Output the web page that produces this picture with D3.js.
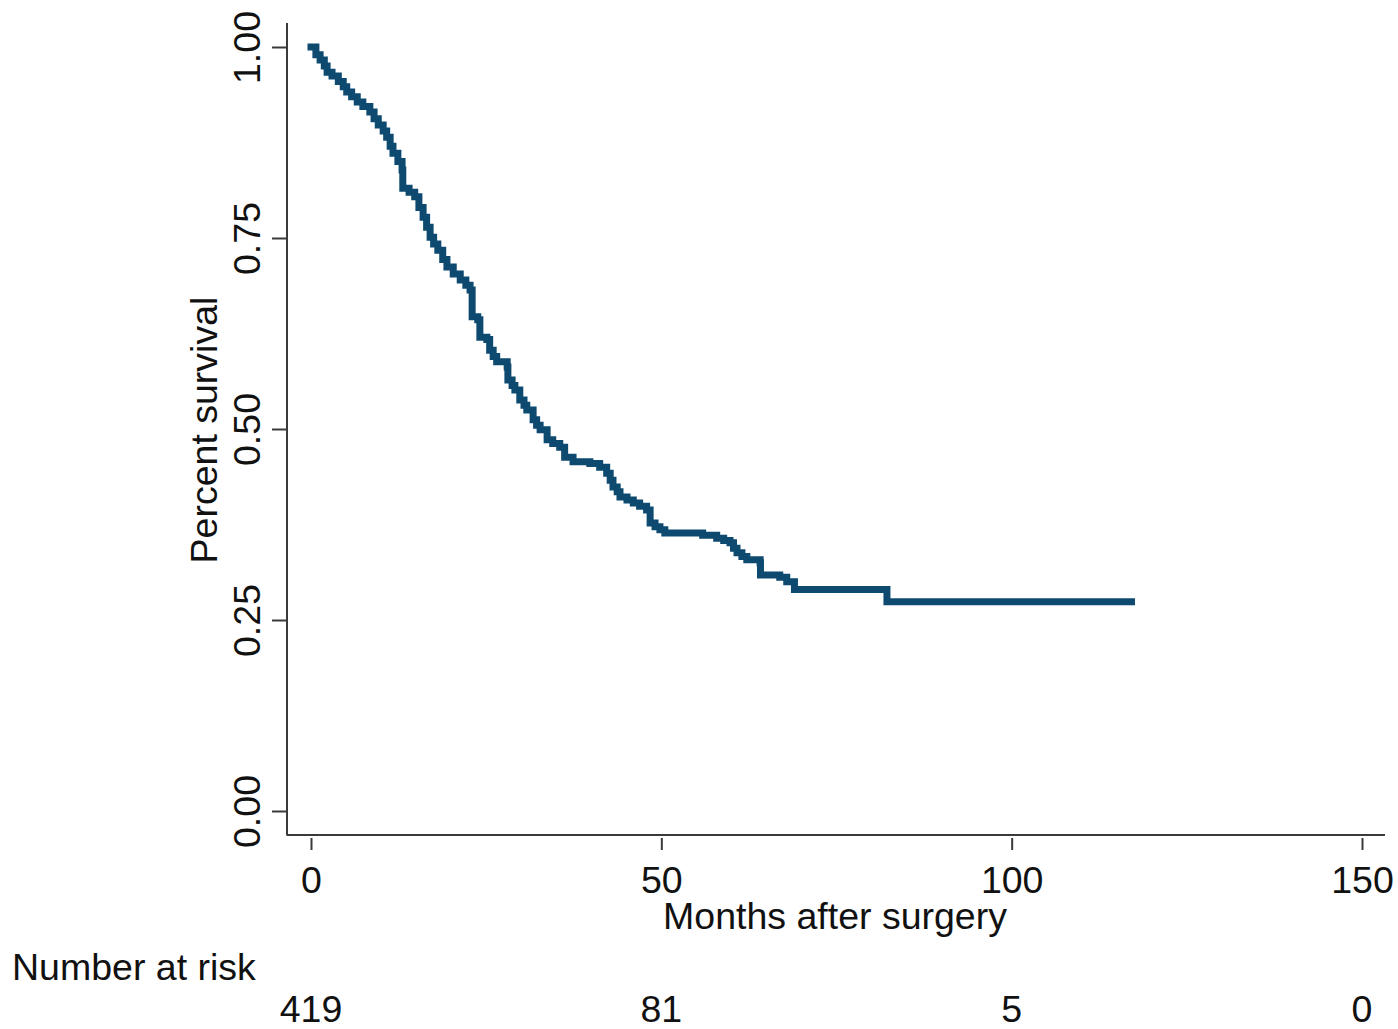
<!DOCTYPE html>
<html>
<head>
<meta charset="utf-8">
<script src="https://cdn.jsdelivr.net/npm/d3@7"></script>
<style>
  html, body { margin: 0; padding: 0; background: #fff; }
  svg { display: block; }
  text { font-family: "Liberation Sans", Arial, sans-serif; fill: #111; }
</style>
</head>
<body>
<svg id="chart" width="1398" height="1029"></svg>
<script>
// ---- data ----
const eventMonths = [0, 0.7, 1.3, 1.9, 2.3, 3.0, 3.9, 4.6, 5.1, 5.8, 6.6, 7.4, 8.4, 9.0, 9.6, 10.3, 10.8, 11.3, 11.7, 12.4, 13.0, 13.1,
  14.0, 14.8, 15.4, 16.0, 16.5, 17.0, 17.5, 18.1, 18.8, 19.4, 20.3, 21.3, 22.1, 22.7, 23.0, 23.8, 24.1, 25.1, 25.5, 26.0, 26.5,
  28.0, 28.1, 28.7, 29.1, 29.8, 30.4, 30.8, 31.7, 32.2, 32.7, 33.7, 34.5, 35.5, 36.2, 37.4, 39.8, 41.2, 42.2, 42.7, 43.1, 43.7,
  44.1, 45.1, 46.0, 46.9, 47.9, 48.4, 49.1, 49.8, 50.5, 55.9, 57.9, 58.9, 59.8, 60.3, 60.8, 61.5, 62.2, 64.1, 64.15, 66.9, 67.9,
  69.0, 82.2, 117.1];
const survival = [1.0, 0.99, 0.983, 0.975, 0.967, 0.962, 0.955, 0.948, 0.941, 0.935, 0.928, 0.922, 0.915, 0.906, 0.898, 0.89, 0.882, 0.87, 0.861, 0.85, 0.839, 0.815,
  0.81, 0.804, 0.79, 0.777, 0.764, 0.751, 0.742, 0.734, 0.722, 0.712, 0.703, 0.695, 0.688, 0.682, 0.647, 0.643, 0.62, 0.617, 0.603, 0.595, 0.588,
  0.581, 0.564, 0.557, 0.551, 0.538, 0.531, 0.525, 0.512, 0.505, 0.499, 0.486, 0.481, 0.476, 0.463, 0.457, 0.455, 0.45, 0.442, 0.433, 0.424, 0.418,
  0.411, 0.407, 0.403, 0.399, 0.394, 0.377, 0.372, 0.368, 0.364, 0.361, 0.357, 0.354, 0.351, 0.344, 0.338, 0.333, 0.329, 0.325, 0.309, 0.306, 0.300,
  0.290, 0.274, 0.274];
const xTicks = [0, 50, 100, 150];
const yTicks = [0, 0.25, 0.5, 0.75, 1.0];
const atRiskTimes = [0, 50, 100, 150];
const atRiskCounts = [419, 81, 5, 0];
const xTitle = "Months after surgery";
const yTitle = "Percent survival";
const riskTitle = "Number at risk";

// ---- layout ----
const svg = d3.select("#chart");
const FS = 37.5;
const axisX0 = 287, axisX1 = 1385, axisY0 = 23, axisY1 = 835;
const x = d3.scaleLinear().domain([0, 150]).range([311, 1362]);
const y = d3.scaleLinear().domain([0, 1]).range([811, 47]);
const lineColor = "#0e4a70";
const axisColor = "#3a3a3a";

// axis lines
svg.append("line").attr("x1", axisX0).attr("x2", axisX0).attr("y1", axisY0).attr("y2", axisY1 + 0.5)
  .attr("stroke", axisColor).attr("stroke-width", 2);
svg.append("line").attr("x1", axisX0).attr("x2", axisX1).attr("y1", axisY1).attr("y2", axisY1)
  .attr("stroke", axisColor).attr("stroke-width", 2);

// x axis ticks
const gx = svg.append("g").attr("transform", `translate(0,${axisY1 + 3})`)
  .call(d3.axisBottom(x).tickValues(xTicks).tickSize(12).tickFormat(d3.format("d")));
gx.select(".domain").remove();
gx.selectAll(".tick line").attr("stroke", axisColor).attr("stroke-width", 2);
gx.selectAll(".tick text").attr("y", 55).attr("dy", 0)
  .style("font-size", FS + "px").style("font-family", '"Liberation Sans", Arial, sans-serif').attr("fill", "#111");

// y axis ticks
const gy = svg.append("g").attr("transform", `translate(${axisX0},0)`)
  .call(d3.axisLeft(y).tickValues(yTicks).tickSize(15).tickFormat(d3.format(".2f")));
gy.select(".domain").remove();
gy.selectAll(".tick line").attr("stroke", axisColor).attr("stroke-width", 2);
gy.selectAll(".tick text")
  .attr("x", 0).attr("y", 0).attr("dy", 0)
  .attr("text-anchor", "middle")
  .attr("transform", "translate(-27,0) rotate(-90)")
  .style("font-size", FS + "px").style("font-family", '"Liberation Sans", Arial, sans-serif').attr("fill", "#111");

// titles
svg.append("text").attr("x", 835).attr("y", 929).attr("text-anchor", "middle")
  .style("font-size", FS + "px").text(xTitle);
svg.append("text").attr("transform", "translate(217,430) rotate(-90)").attr("text-anchor", "middle")
  .style("font-size", FS + "px").text(yTitle);

// number at risk
svg.append("text").attr("x", 12).attr("y", 980).style("font-size", FS + "px").text(riskTitle);
svg.append("g").selectAll("text").data(atRiskTimes).join("text")
  .attr("x", d => x(d)).attr("y", 1022).attr("text-anchor", "middle")
  .style("font-size", FS + "px").text((d, i) => atRiskCounts[i]);

// KM curve
const pts = eventMonths.map((t, i) => [t, survival[i]]);
const line = d3.line().x(d => x(d[0])).y(d => y(d[1])).curve(d3.curveStepAfter);
svg.append("path").datum(pts).attr("d", line)
  .attr("fill", "none").attr("stroke", lineColor).attr("stroke-width", 7)
  .attr("stroke-linejoin", "miter").attr("stroke-linecap", "square");
</script>
</body>
</html>
